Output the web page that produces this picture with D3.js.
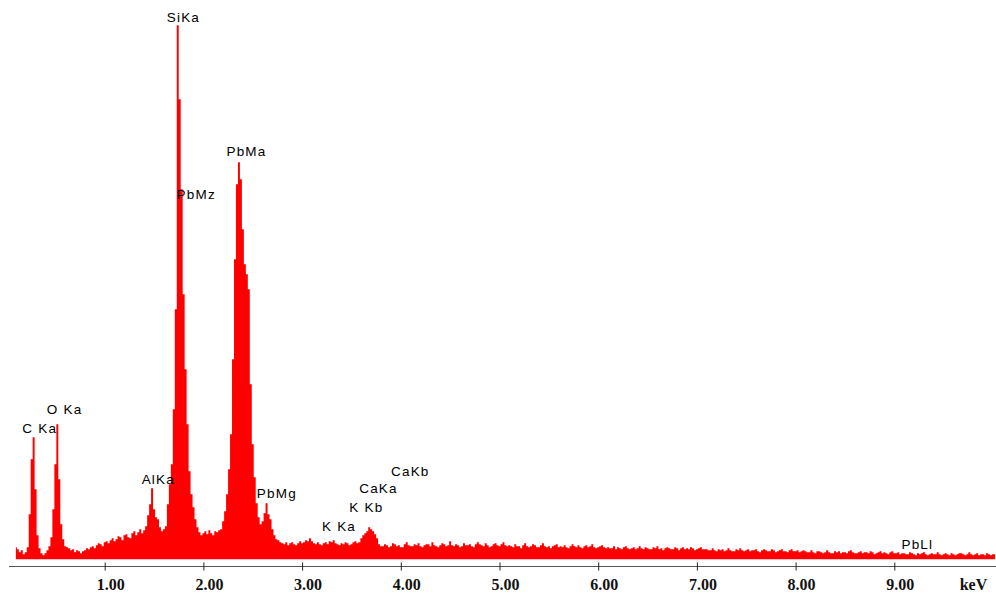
<!DOCTYPE html>
<html>
<head>
<meta charset="utf-8">
<script src="https://cdn.jsdelivr.net/npm/d3@7"></script>
<style>
  html, body { margin: 0; padding: 0; background: #ffffff; }
  svg { display: block; }
  .peak-label { font-family: "Liberation Sans", Arial, sans-serif; font-size: 13.5px; letter-spacing: 1.2px; fill: #000; }
  .tick-label { font-family: "Liberation Serif", "Times New Roman", serif; font-size: 16px; font-weight: bold; fill: #111; }
</style>
</head>
<body>
<svg id="chart" width="996" height="599"></svg>
<script>
// EDS spectrum: counts per 0.02 keV channel, first channel at 0.10 keV
const channelStartKeV = 0.10;
const channelWidthKeV = 0.02;
const counts = [
  12,10,7,9,5,7,12,45,100,122,
  70,24,11,6,4,6,9,13,22,50,
  95,135,80,35,20,13,12,11,9,10,
  7,9,8,6,8,9,11,10,12,13,
  11,14,16,15,13,17,18,16,19,21,
  18,20,23,22,19,24,25,22,21,26,
  28,24,27,30,26,29,33,44,55,71,
  50,42,40,32,28,30,33,55,75,95,
  150,250,534,460,370,265,190,135,88,65,
  52,40,32,27,24,26,28,25,29,26,
  24,28,27,29,30,38,48,65,90,125,
  200,300,375,397,380,330,295,285,270,175,
  115,82,56,42,35,38,46,56,45,40,
  30,24,20,19,17,16,15,17,14,16,
  17,15,14,16,18,16,17,19,18,21,
  18,16,15,17,15,14,16,17,15,18,
  17,19,16,15,14,16,15,17,16,14,
  15,17,18,16,17,21,24,26,28,32,
  30,28,25,21,15,13,
  13,15,14,12,13,16,15,13,14,12,12,15,17,14,13,13,15,14,16,13,
  12,14,15,15,13,17,14,13,12,14,16,15,13,14,18,14,13,15,14,12,
  13,16,14,14,15,13,12,15,17,15,14,13,16,14,12,13,15,16,14,13,
  15,17,14,13,
  14,13,12,15,13,13,11,14,16,13,12,13,15,14,12,12,14,16,13,12,
  13,11,13,14,15,12,13,12,14,12,11,13,15,13,12,14,12,11,13,14,
  12,13,15,12,11,12,13,14,12,11,
  12,11,11,13,10,12,11,10,12,13,11,10,11,12,10,11,13,11,10,12,
  11,10,10,12,11,13,10,11,9,11,12,11,10,10,12,11,9,11,12,10,
  11,10,12,11,9,10,11,12,10,10,
  10,9,9,11,9,8,10,9,10,8,9,11,9,8,8,10,9,11,9,8,
  9,10,8,9,9,10,8,7,9,10,9,8,8,10,9,7,8,9,10,8,
  8,7,9,10,8,8,9,7,8,9,
  8,7,7,9,7,6,8,8,7,6,7,9,7,6,6,8,7,8,6,7,
  7,6,8,9,7,6,6,7,8,6,7,7,6,8,7,5,6,7,8,6,
  7,6,5,7,8,6,6,7,5,6,
  6,5,5,7,6,5,4,6,5,6,7,5,4,5,6,5,5,7,5,4,
  5,6,5,4,6,5,4,5,6,6,5,4,5,7,5,4,5,6,4,5,
  5,4,6,5,4,5,5
];

// Identified lines: name and line energy (keV)
const lineNames    = ["C Ka", "O Ka", "AlKa", "SiKa", "PbMz", "PbMa", "PbMg", "K Ka", "K Kb", "CaKa", "CaKb", "PbLl"];
const lineEnergies = [0.277, 0.525, 1.486, 1.740, 1.840, 2.345, 2.653, 3.313, 3.590, 3.690, 4.012, 9.184];
// Height (in counts) at which each line's label is written
const labelLevels  = [126.6, 145.3, 75.3, 537.6, 360, 403.3, 61.8, 28.6, 47, 66, 83.6, 10.3];

const axisTicks = [1, 2, 3, 4, 5, 6, 7, 8, 9];
const axisUnit = "keV";

const svg = d3.select("#chart");

const x = d3.scaleLinear().domain([0, 10]).range([6, 993]);
const y = d3.scaleLinear().domain([0, 540]).range([559.3, 19.3]);

const spectrum = counts.map((c, i) => ({ e: channelStartKeV + i * channelWidthKeV, c }));

const area = d3.area()
  .x(d => x(d.e))
  .y0(y(0))
  .y1(d => y(d.c))
  .curve(d3.curveStep);

svg.append("path")
  .datum(spectrum)
  .attr("d", area)
  .attr("fill", "#ff0000");

// Energy axis
const axisY = 566.5;
const axisG = svg.append("g").attr("transform", `translate(0,${axisY})`);

axisG.append("line")
  .attr("x1", x(0.03)).attr("x2", x(10.03))
  .attr("y1", 0).attr("y2", 0)
  .attr("stroke", "#555").attr("stroke-width", 1.2);

const xAxis = d3.axisBottom(x)
  .tickValues(axisTicks)
  .tickFormat(d3.format(".2f"))
  .tickSizeInner(4)
  .tickSizeOuter(0);

const ticksG = axisG.append("g").call(xAxis);
ticksG.select(".domain").remove();
ticksG.selectAll(".tick line")
  .attr("y1", -4).attr("y2", 4)
  .attr("stroke", "#222");
ticksG.selectAll(".tick text")
  .attr("class", "tick-label")
  .attr("x", 5.5)
  .attr("y", 23.5)
  .attr("dy", null)
  .attr("font-family", null)
  .attr("font-size", null);

axisG.append("text")
  .attr("class", "tick-label")
  .attr("x", 973.5)
  .attr("y", 23.5)
  .attr("text-anchor", "middle")
  .text(axisUnit);

// Line labels
svg.append("g")
  .selectAll("text")
  .data(lineNames)
  .join("text")
  .attr("class", "peak-label")
  .attr("x", (d, i) => x(lineEnergies[i]) - 11)
  .attr("y", (d, i) => y(labelLevels[i]))
  .text(d => d);
</script>
</body>
</html>
